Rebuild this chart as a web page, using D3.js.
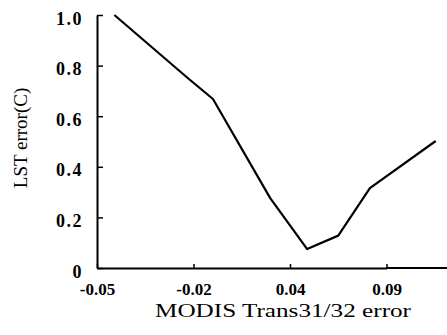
<!DOCTYPE html>
<html>
<head>
<meta charset="utf-8">
<script src="https://cdn.jsdelivr.net/npm/d3@7"></script>
<style>
  body { margin: 0; background: #fff; }
  svg { display: block; }
</style>
</head>
<body>
<script>
// tick labels on the x axis (spaced evenly in the original figure)
var xTicks = [-0.05, -0.02, 0.04, 0.09];
var yTicks = [0, 0.2, 0.4, 0.6, 0.8, 1.0];

// MODIS Trans31/32 error vs LST error
var transError = [-0.0446, -0.0218, -0.0079, 0.0277, 0.0489, 0.065, 0.0814, 0.1155];
var lstError = [1.0, 0.751, 0.668, 0.276, 0.075, 0.128, 0.316, 0.502];

var width = 447,
  height = 335;
var plotLeft = 97,
  plotBottom = 268,
  plotTop = 15,
  step = 96.5;

var svg = d3
  .select("body")
  .append("svg")
  .attr("width", width)
  .attr("height", height);

// polylinear x so the uneven tick values sit at equal steps
var x = d3
  .scaleLinear()
  .domain(xTicks)
  .range(xTicks.map(function (d, i) {
    return plotLeft + i * step;
  }));
var y = d3.scaleLinear().domain([0, 1]).range([plotBottom, plotTop]);

var font = "'Liberation Serif', 'Times New Roman', serif";

var xAxis = d3
  .axisBottom(x)
  .tickValues(xTicks)
  .tickSize(-4)
  .tickSizeOuter(0)
  .tickPadding(15)
  .tickFormat(function (d) {
    return d3.format(".2f")(d).replace("−", "-");
  });

var yAxis = d3
  .axisLeft(y)
  .tickValues(yTicks)
  .tickSize(-6)
  .tickSizeOuter(0)
  .tickPadding(14)
  .tickFormat(function (d) {
    return d === 0 ? "0" : d3.format(".1f")(d);
  });

var gx = svg
  .append("g")
  .attr("transform", "translate(0," + plotBottom + ")")
  .call(xAxis);

// axis line runs on to the right edge
gx.append("line")
  .attr("x1", x.range()[x.range().length - 1])
  .attr("x2", width)
  .attr("stroke", "#000")
  .attr("stroke-width", 2);

var gy = svg
  .append("g")
  .attr("transform", "translate(" + plotLeft + ",0)")
  .call(yAxis);

svg.selectAll(".domain").attr("stroke-width", 2);
svg.selectAll(".tick line").attr("stroke-width", 1.5);

gx.selectAll("text")
  .style("font-family", font)
  .style("font-size", "17px")
  .style("font-weight", "bold")
  .attr("fill", "#000");

gy.selectAll("text")
  .style("font-family", font)
  .style("font-size", "18px")
  .style("font-weight", "bold")
  .style("letter-spacing", "1.5px")
  .attr("dy", "0.5em")
  .attr("fill", "#000");

var line = d3
  .line()
  .x(function (d) {
    return x(d[0]);
  })
  .y(function (d) {
    return y(d[1]);
  });

svg
  .append("path")
  .datum(transError.map(function (d, i) {
    return [d, lstError[i]];
  }))
  .attr("fill", "none")
  .attr("stroke", "#000")
  .attr("stroke-width", 2.2)
  .attr("stroke-linejoin", "round")
  .attr("d", line);

// axis titles
svg
  .append("text")
  .attr("x", 283)
  .attr("y", 317)
  .attr("text-anchor", "middle")
  .attr("textLength", 256)
  .attr("lengthAdjust", "spacingAndGlyphs")
  .style("font-family", font)
  .style("font-size", "18px")
  .text("MODIS Trans31/32 error");

svg
  .append("text")
  .attr("transform", "translate(27,138)rotate(-90)")
  .attr("text-anchor", "middle")
  .style("font-family", font)
  .style("font-size", "19px")
  .text("LST error(C)");
</script>
</body>
</html>
